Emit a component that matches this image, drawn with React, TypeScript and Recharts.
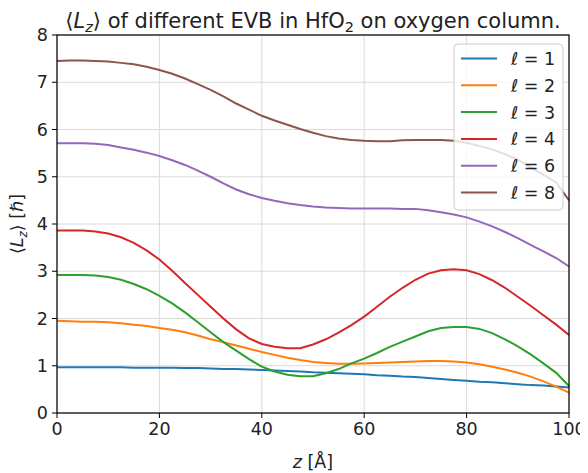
import { LineChart, Line, XAxis, YAxis, CartesianGrid } from "recharts";

const Z = [
  0, 2.5, 5, 7.5, 10, 12.5, 15, 17.5, 20, 22.5, 25, 27.5, 30, 32.5, 35, 37.5, 40, 42.5, 45, 47.5, 50,
  52.5, 55, 57.5, 60, 62.5, 65, 67.5, 70, 72.5, 75, 77.5, 80, 82.5, 85, 87.5, 90, 92.5, 95, 97.5, 100,
];

const L1 = [
  0.97, 0.97, 0.97, 0.97, 0.97, 0.97, 0.96, 0.96, 0.96, 0.96, 0.95, 0.95, 0.94, 0.93, 0.93, 0.92, 0.91,
  0.9, 0.89, 0.88, 0.86, 0.85, 0.84, 0.83, 0.82, 0.8, 0.79, 0.77, 0.76, 0.74, 0.72, 0.7, 0.68, 0.66, 0.65,
  0.63, 0.61, 0.59, 0.58, 0.56, 0.54,
];
const L2 = [
  1.95, 1.94, 1.93, 1.93, 1.92, 1.9, 1.87, 1.84, 1.8, 1.76, 1.71, 1.64, 1.56, 1.5, 1.43, 1.36, 1.29, 1.23,
  1.17, 1.12, 1.08, 1.06, 1.04, 1.04, 1.05, 1.06, 1.07, 1.08, 1.09, 1.1, 1.1, 1.09, 1.07, 1.03, 0.98, 0.92,
  0.85, 0.77, 0.67, 0.56, 0.43,
];
const L3 = [
  2.92, 2.92, 2.92, 2.91, 2.88, 2.82, 2.73, 2.62, 2.48, 2.32, 2.13, 1.92, 1.71, 1.5, 1.32, 1.14, 0.98, 0.88,
  0.81, 0.78, 0.78, 0.84, 0.93, 1.05, 1.15, 1.27, 1.4, 1.51, 1.62, 1.73, 1.8, 1.82, 1.82, 1.78, 1.69, 1.56,
  1.41, 1.24, 1.05, 0.85, 0.57,
];
const L4 = [
  3.86, 3.86, 3.86, 3.84, 3.8, 3.72, 3.6, 3.44, 3.25, 3.01, 2.75, 2.5, 2.25, 2.0, 1.77, 1.58, 1.46, 1.4,
  1.37, 1.37, 1.45, 1.56, 1.7, 1.86, 2.04, 2.25, 2.46, 2.65, 2.82, 2.95, 3.02, 3.04, 3.02, 2.94, 2.81, 2.65,
  2.46, 2.27, 2.07, 1.87, 1.65,
];
const L6 = [
  5.71, 5.71, 5.71, 5.7, 5.67, 5.62, 5.57, 5.51, 5.44, 5.35, 5.25, 5.13, 5.0, 4.86, 4.73, 4.63, 4.55, 4.49,
  4.44, 4.4, 4.37, 4.35, 4.34, 4.33, 4.33, 4.33, 4.33, 4.32, 4.32, 4.29, 4.25, 4.2, 4.14, 4.05, 3.95, 3.83,
  3.7, 3.56, 3.42, 3.28, 3.1,
];
const L8 = [
  7.45, 7.46, 7.46, 7.45, 7.44, 7.41, 7.38, 7.33, 7.26, 7.18, 7.08, 6.96, 6.84, 6.7, 6.55, 6.42, 6.29, 6.19,
  6.1, 6.01, 5.93, 5.86, 5.81, 5.78, 5.76, 5.75, 5.75, 5.77, 5.78, 5.78, 5.78, 5.76, 5.72, 5.65, 5.58, 5.48,
  5.36, 5.2, 5.04, 4.88, 4.5,
];

const SERIES = [
  { key: "l1", label: "1", color: "#1f77b4", values: L1 },
  { key: "l2", label: "2", color: "#ff7f0e", values: L2 },
  { key: "l3", label: "3", color: "#2ca02c", values: L3 },
  { key: "l4", label: "4", color: "#d62728", values: L4 },
  { key: "l6", label: "6", color: "#9467bd", values: L6 },
  { key: "l8", label: "8", color: "#8c564b", values: L8 },
];

const X_TICKS = [0, 20, 40, 60, 80, 100];
const Y_TICKS = [0, 1, 2, 3, 4, 5, 6, 7, 8];

const rows = Z.map((z, i) => {
  const row: Record<string, number> = { z };
  SERIES.forEach((s) => {
    row[s.key] = s.values[i];
  });
  return row;
});

const FONT = "DejaVu Sans, sans-serif";
const TEXT = "#222";

// plot box (matches chart margins below)
const LEFT = 57;
const TOP = 35;
const RIGHT = 569;
const BOTTOM = 413;

export default function App() {
  const tick = { fontSize: 17.5, fill: TEXT, fontFamily: FONT };
  return (
    <div style={{ position: "relative", width: 588, height: 473, margin: "-8px 0 0 -8px", background: "#fff" }}>
      <LineChart width={588} height={473} data={rows} margin={{ top: TOP, right: 588 - RIGHT, bottom: 30, left: 30 }}>
        <CartesianGrid stroke="#dadada" strokeWidth={1} />
        <XAxis
          dataKey="z"
          type="number"
          domain={[0, 100]}
          ticks={X_TICKS}
          height={30}
          tick={tick}
          tickSize={5}
          tickMargin={5}
          axisLine={false}
          tickLine={{ stroke: "#000" }}
        />
        <YAxis
          type="number"
          domain={[0, 8]}
          ticks={Y_TICKS}
          width={27}
          tick={tick}
          tickSize={5}
          tickMargin={4}
          axisLine={false}
          tickLine={{ stroke: "#000" }}
        />
        {SERIES.map((s) => (
          <Line
            key={s.key}
            dataKey={s.key}
            type="linear"
            stroke={s.color}
            strokeWidth={2}
            dot={false}
            isAnimationActive={false}
          />
        ))}
      </LineChart>
      <svg
        width={588}
        height={473}
        style={{ position: "absolute", left: 0, top: 0, pointerEvents: "none" }}
        fontFamily={FONT}
      >
        <rect x={LEFT} y={TOP} width={RIGHT - LEFT} height={BOTTOM - TOP} fill="none" stroke="#000" strokeWidth={1.2} />
        <text x={(LEFT + RIGHT) / 2} y={28} textAnchor="middle" fontSize={21} fill={TEXT}>
          ⟨<tspan fontStyle="italic">L</tspan>
          <tspan fontStyle="italic" fontSize={14.5} dy={4}>z</tspan>
          <tspan dy={-4}>⟩ of different EVB in HfO</tspan>
          <tspan fontSize={14.5} dy={4}>2</tspan>
          <tspan dy={-4}> on oxygen column.</tspan>
        </text>
        <text x={(LEFT + RIGHT) / 2} y={468} textAnchor="middle" fontSize={17.5} fill={TEXT}>
          <tspan fontStyle="italic">z</tspan> [Å]
        </text>
        <text transform={`translate(23,${(TOP + BOTTOM) / 2}) rotate(-90)`} textAnchor="middle" fontSize={17.5} fill={TEXT}>
          ⟨<tspan fontStyle="italic">L</tspan>
          <tspan fontStyle="italic" fontSize={12} dy={4}>z</tspan>
          <tspan dy={-4}>⟩ [ℏ]</tspan>
        </text>
        <g>
          <rect x={454} y={44} width={109} height={166} rx={4} fill="#fff" fillOpacity={0.8} stroke="#cccccc" />
          {SERIES.map((s, i) => {
            const cy = 58.5 + i * 26.8;
            return (
              <g key={s.key}>
                <line x1={461} x2={497} y1={cy} y2={cy} stroke={s.color} strokeWidth={2} />
                <text x={511} y={cy + 6.5} fontSize={17.5} fill={TEXT}>
                  <tspan fontStyle="italic">ℓ</tspan> = {s.label}
                </text>
              </g>
            );
          })}
        </g>
      </svg>
    </div>
  );
}
